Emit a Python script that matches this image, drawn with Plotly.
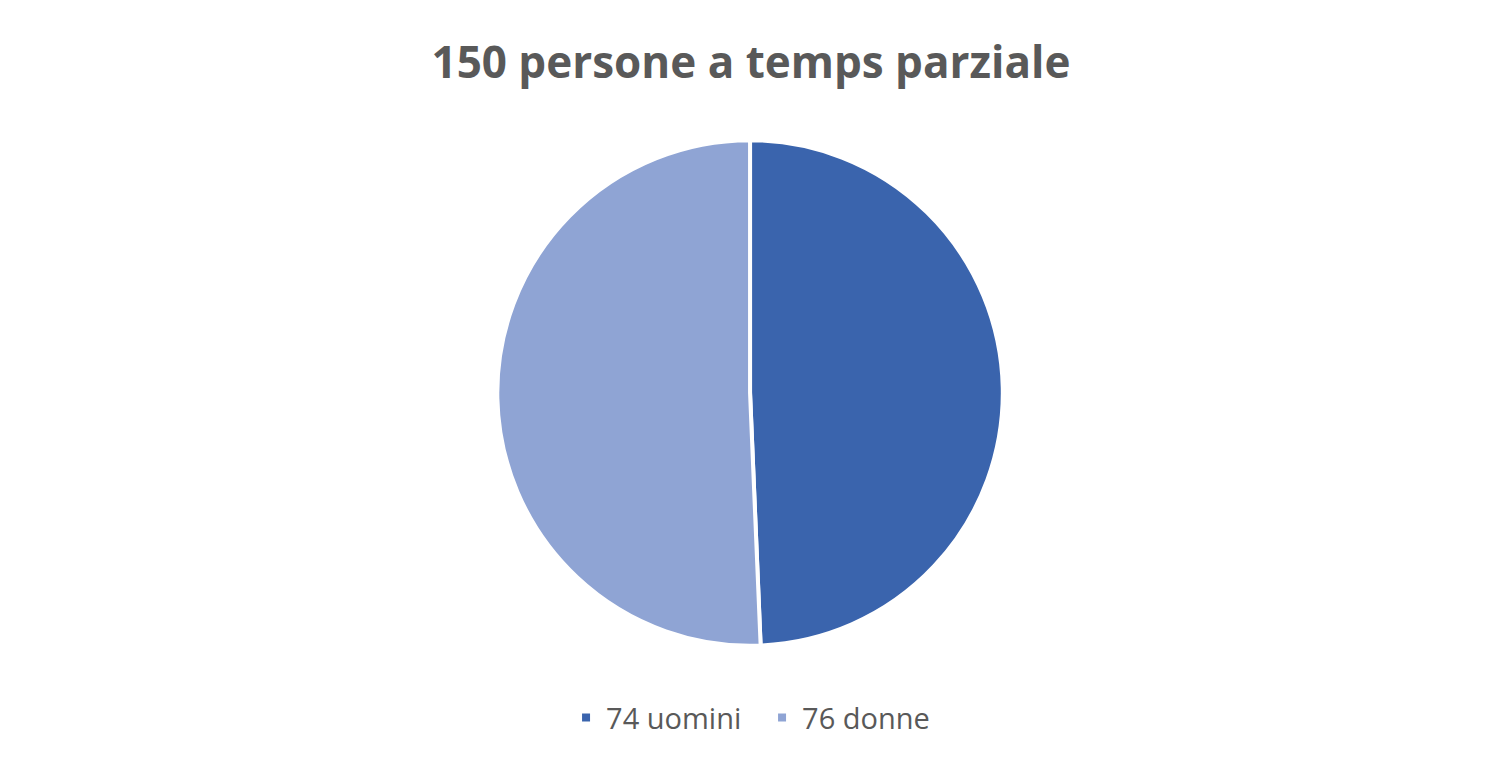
import plotly.graph_objects as go

labels = ['74 uomini', '76 donne']
values = [74, 76]
colors = ['#3A64AD', '#8FA4D4']

fig = go.Figure(go.Pie(
    labels=labels,
    values=values,
    sort=False,
    direction='clockwise',
    rotation=0,
    textinfo='none',
    hoverinfo='label+value+percent',
    marker=dict(colors=colors, line=dict(color='white', width=4)),
    domain=dict(x=[0.3262, 0.6632], y=[0.172, 0.832]),
))

fig.update_layout(
    width=1500, height=773,
    paper_bgcolor='white',
    margin=dict(l=0, r=0, t=0, b=0),
    title=dict(text='<b>150 persone a temps parziale</b>', x=0.4953, xanchor='center',
               y=0.93, yanchor='middle',
               font=dict(family='Open Sans', size=44, color='#595959')),
    legend=dict(orientation='h', x=0.5027, xanchor='center', y=0.082, yanchor='middle',
                font=dict(family='Open Sans', size=29, color='#595959'),
                entrywidth=151, entrywidthmode='pixels',
                itemclick=False),
)

fig.write_html('out.html')
